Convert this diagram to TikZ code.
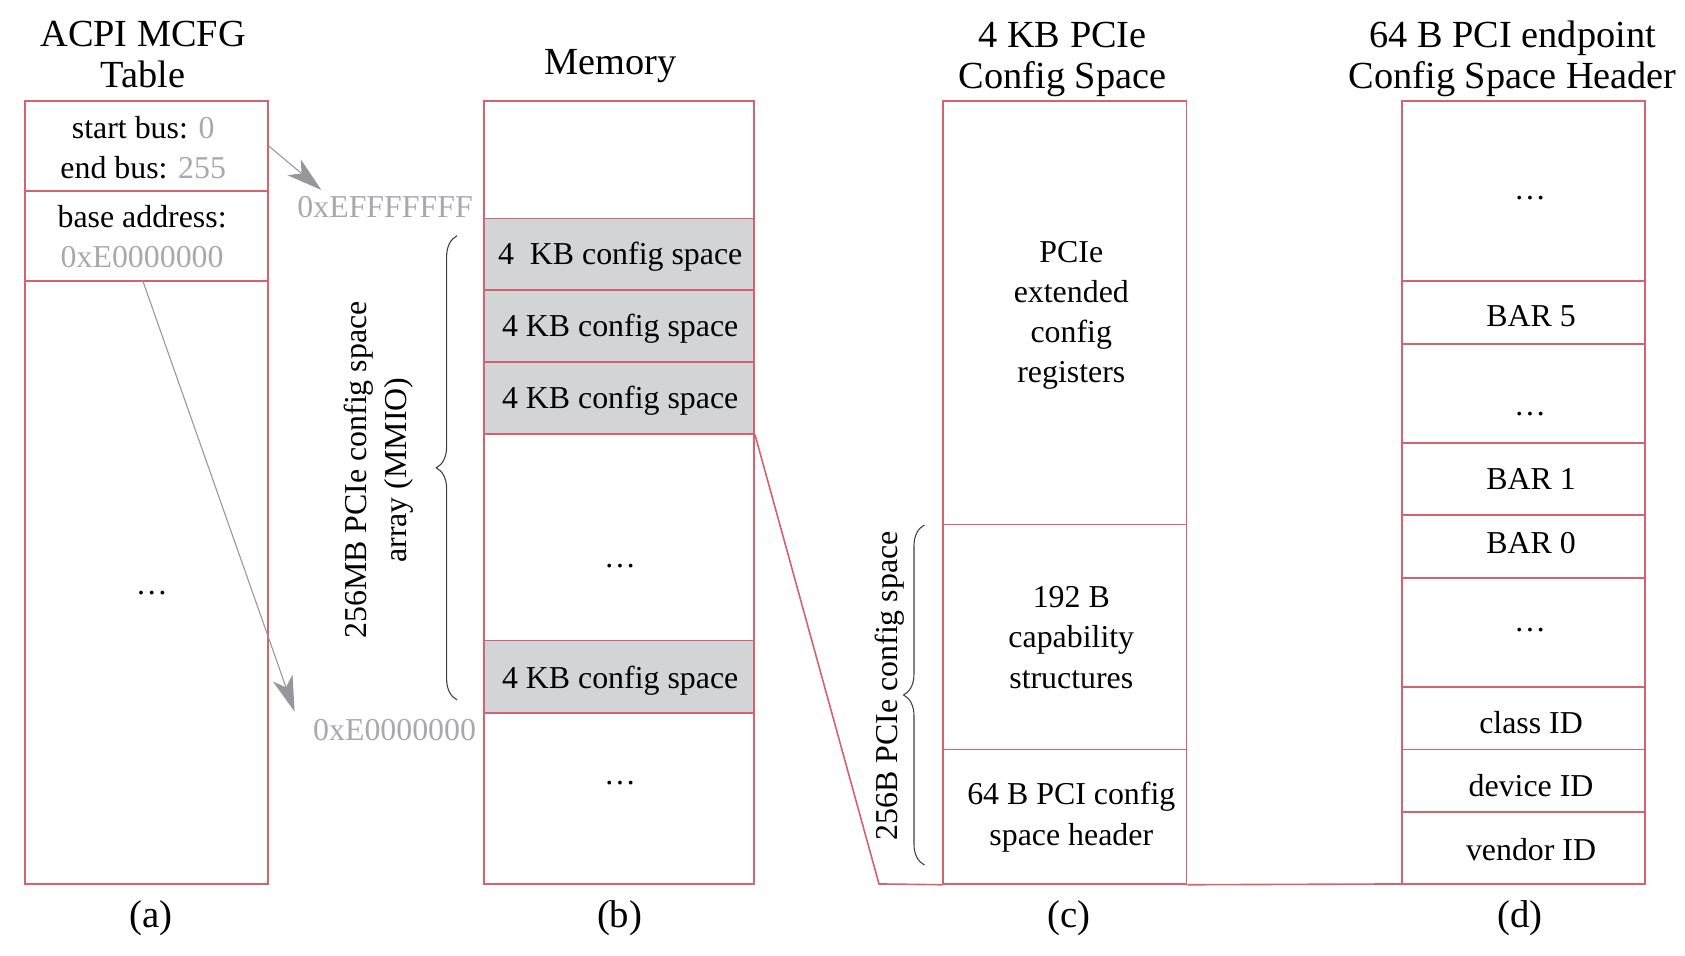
\documentclass[tikz,border=0pt]{standalone}
\usepackage{fontspec}
\setmainfont{Liberation Serif}
\usetikzlibrary{arrows.meta,fit,decorations.pathreplacing}
\definecolor{boxred}{RGB}{214,98,112}
\definecolor{cellgray}{RGB}{211,212,214}
\definecolor{txtgray}{RGB}{167,169,172}
\definecolor{arrgray}{RGB}{150,151,154}
\newcommand\bodyfont{\fontsize{14.8}{18.7}\selectfont}
\newcommand\titlefont{\fontsize{17.8}{19}\selectfont}
\newcommand\capfont{\fontsize{18}{20}\selectfont}
\begin{document}
\begin{tikzpicture}[x=0.5pt,y=-0.5pt,
  cell/.style={draw=boxred, line width=0.75pt, inner sep=0pt},
  gcell/.style={cell, fill=cellgray},
  txt/.style={inner sep=0pt, align=center, font=\bodyfont},
  gtxt/.style={txt, text=txtgray},
  ttl/.style={inner sep=0pt, align=center, font=\titlefont},
  capt/.style={inner sep=0pt, font=\capfont},
  ptr/.style={draw=arrgray, line width=0.5pt, -{Stealth[length=16.5pt, width=9.6pt, inset=4.5pt]}},
  zoomline/.style={draw=boxred, line width=0.75pt},
  bracestyle/.style={draw=black!75, line width=0.5pt, decorate, decoration={brace, amplitude=9.7pt}}
]
\useasboundingbox (0,0) rectangle (1565,887);

% ---------- titles ----------
\node[ttl] (ta) at (133,51) {ACPI MCFG\\Table};
\node[ttl] (tb) at (567,61) {Memory};
\node[ttl] (tc) at (987,55) {4 KB PCIe\\Config Space};
\node[ttl] (td) at (1405,55) {64 B PCI endpoint\\Config Space Header};

% ---------- (a) ACPI MCFG table ----------
\node[cell, fit={(23,94)(249,177.5)}] (a1) {};
\node[cell, fit={(23,177.5)(249,261)}] (a2) {};
\node[cell, fit={(23,261)(249,821)}] (a3) {};
\node[txt] (a1t) at (133,137) {start bus: \textcolor{txtgray}{0}\\end bus: \textcolor{txtgray}{255}};
\node[txt] (a2t) at (132,220) {base address:\\\textcolor{txtgray}{0xE0000000}};
\node[txt] (adots) at (141,551) {\dots};

% ---------- (b) Memory ----------
\node[cell, fit={(449.5,94)(700.5,203)}] (m0) {};
\node[gcell, fit={(449.5,203)(700.5,269.5)}] (m1) {};
\node[gcell, fit={(449.5,269.5)(700.5,336)}] (m2) {};
\node[gcell, fit={(449.5,336)(700.5,403)}] (m3) {};
\node[cell, fit={(449.5,403)(700.5,595)}] (m5) {};
\node[gcell, fit={(449.5,595)(700.5,662)}] (m4) {};
\node[cell, fit={(449.5,662)(700.5,821)}] (m6) {};
\node[txt] (m1t) at (576,238) {4~~KB config space};
\node[txt] (m2t) at (576,305) {4 KB config space};
\node[txt] (m3t) at (576,372) {4 KB config space};
\node[txt] (m4t) at (576,632) {4 KB config space};
\node[txt] (mdots1) at (576,526) {\dots};
\node[txt] (mdots2) at (576,727) {\dots};

% address labels and pointers
\node[gtxt] (hiaddr) at (357.7,192.7) {0xEFFFFFFF};
\node[gtxt] (loaddr) at (366.5,678) {0xE0000000};
\coordinate (hitip) at (298.5,176.5);
\coordinate (lotip) at (273.6,661);
\coordinate (a2src) at (132.7,261);
\draw[ptr] (a1.east) -- (hitip);
\draw[ptr] (a2src) -- (lotip);

% brace for the MMIO array
\coordinate (br1b) at (424.5,650);
\coordinate (br1t) at (424.5,219);
\draw[bracestyle] (br1b) -- (br1t);
\node[txt, rotate=90] (mmio) at (352,436.6) {256MB PCIe config space\\array (MMIO)};

% ---------- (c) 4 KB PCIe config space ----------
\node[cell, fit={(876,94)(1102,487)}] (c1) {};
\node[cell, fit={(876,487)(1102,696)}] (c2) {};
\node[cell, fit={(876,696)(1102,821)}] (c3) {};
\node[txt] (c1t) at (995,293) {PCIe\\extended\\config\\registers};
\node[txt] (c2t) at (995,592) {192 B\\capability\\structures};
\node[txt] (c3t) at (995,759) {64 B PCI config\\space header};

\coordinate (br2b) at (858.6,803.4);
\coordinate (br2t) at (858.6,487.6);
\draw[bracestyle] (br2b) -- (br2t);
\node[txt, rotate=90] (b256) at (826.6,637) {256B PCIe config space};

% zoom line from memory to (c) and (d)
\coordinate (zb) at (816.4,821);
\draw[zoomline] (m3.south east) -- (zb) -- (c3.south west);
\draw[zoomline] (c3.south east) -- (1302,821);

% ---------- (d) 64 B PCI endpoint header ----------
\node[cell, fit={(1302,94)(1528,261)}] (d1) {};
\node[cell, fit={(1302,261)(1528,319.5)}] (d2) {};
\node[cell, fit={(1302,319.5)(1528,411.5)}] (d3) {};
\node[cell, fit={(1302,411.5)(1528,478.5)}] (d4) {};
\node[cell, fit={(1302,478.5)(1528,537)}] (d5) {};
\node[cell, fit={(1302,537)(1528,638)}] (d6) {};
\node[cell, fit={(1302,638)(1528,696)}] (d7) {};
\node[cell, fit={(1302,696)(1528,754)}] (d8) {};
\node[cell, fit={(1302,754)(1528,821)}] (d9) {};
\node[txt] (d2t) at (1422,294) {BAR 5};
\node[txt] (d4t) at (1422,445) {BAR 1};
\node[txt] (d5t) at (1422,504) {BAR 0};
\node[txt] (d7t) at (1422,671) {class ID};
\node[txt] (d8t) at (1422,730) {device ID};
\node[txt] (d9t) at (1422,789) {vendor ID};
\node[txt] (ddots1) at (1421,184) {\dots};
\node[txt] (ddots2) at (1421,384.5) {\dots};
\node[txt] (ddots3) at (1421,585) {\dots};

% ---------- captions ----------
\node[capt] (ca) at (140,852.6) {(a)};
\node[capt] (cb) at (575.5,852.6) {(b)};
\node[capt] (cc) at (993,852.6) {(c)};
\node[capt] (cd) at (1411.7,852.6) {(d)};
\end{tikzpicture}
\end{document}
